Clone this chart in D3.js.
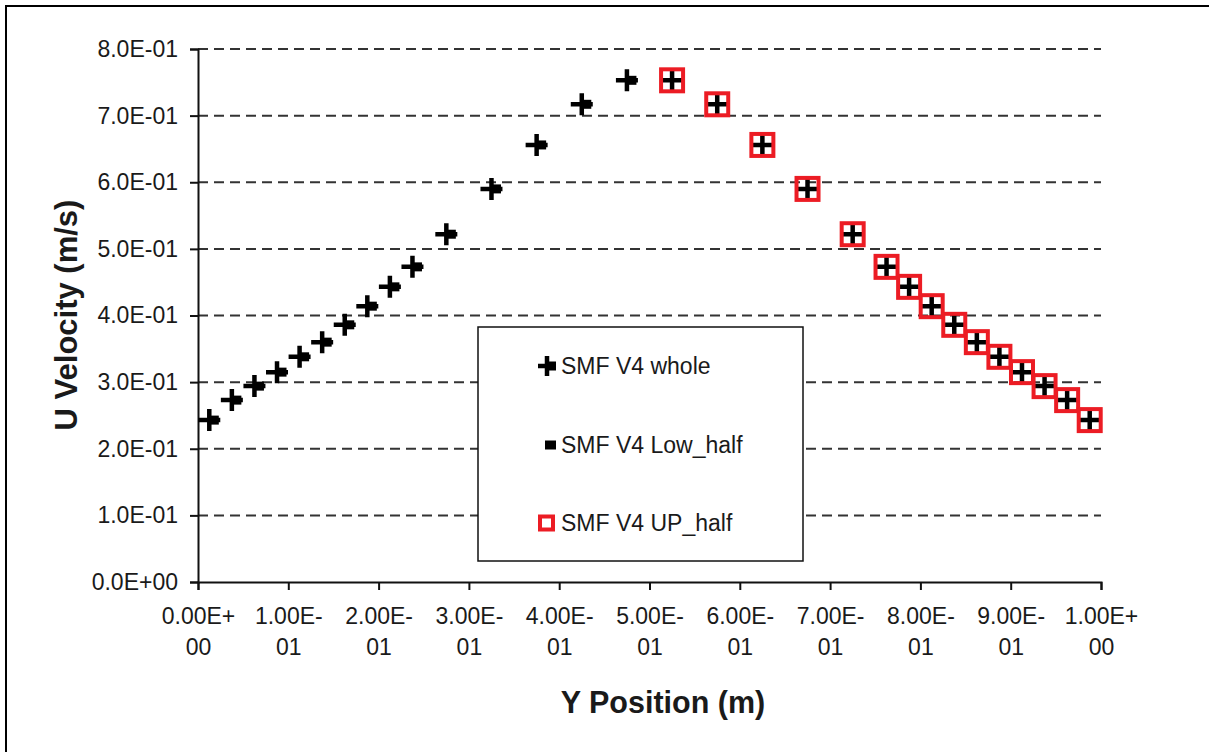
<!DOCTYPE html>
<html>
<head>
<meta charset="utf-8">
<script src="https://cdn.jsdelivr.net/npm/d3@7/dist/d3.min.js"></script>
<style>
  html, body { margin: 0; padding: 0; background: #fff; }
  svg { display: block; font-family: Arial, "Liberation Sans", sans-serif; }
</style>
</head>
<body>
<svg id="chart" width="1209" height="752"></svg>
<script>
// Velocity profile across the channel (Y position in m, U velocity in m/s)
const yPosition = [0.0125, 0.0375, 0.0625, 0.0875, 0.1125, 0.1375, 0.1625, 0.1875, 0.2125, 0.2375,
                   0.275, 0.325, 0.375, 0.425, 0.475, 0.525, 0.575, 0.625, 0.675, 0.725,
                   0.7625, 0.7875, 0.8125, 0.8375, 0.8625, 0.8875, 0.9125, 0.9375, 0.9625, 0.9875];
const uWhole = [0.243, 0.273, 0.294, 0.315, 0.338, 0.360, 0.386, 0.414, 0.443, 0.473,
                0.522, 0.590, 0.656, 0.717, 0.753, 0.753, 0.717, 0.656, 0.590, 0.522,
                0.473, 0.443, 0.414, 0.386, 0.360, 0.338, 0.315, 0.294, 0.273, 0.243];

const yPositionLow = [0.0175, 0.0425, 0.0675, 0.0925, 0.1175, 0.1425, 0.1675, 0.1925, 0.2175, 0.2425,
                      0.28, 0.33, 0.38, 0.43, 0.48];
const uLowHalf = [0.243, 0.273, 0.294, 0.315, 0.338, 0.360, 0.386, 0.414, 0.443, 0.473,
                  0.522, 0.590, 0.656, 0.717, 0.753];

const yPositionUp = [0.525, 0.575, 0.625, 0.675, 0.725, 0.7625, 0.7875, 0.8125, 0.8375, 0.8625,
                     0.8875, 0.9125, 0.9375, 0.9625, 0.9875];
const uUpHalf = [0.753, 0.717, 0.656, 0.590, 0.522, 0.473, 0.443, 0.414, 0.386, 0.360,
                 0.338, 0.315, 0.294, 0.273, 0.243];

const seriesNames = ["SMF V4 whole", "SMF V4 Low_half", "SMF V4 UP_half"];

const xTicks = [0, 0.1, 0.2, 0.3, 0.4, 0.5, 0.6, 0.7, 0.8, 0.9, 1.0];
const xTickLabels = [["0.00E+", "00"], ["1.00E-", "01"], ["2.00E-", "01"], ["3.00E-", "01"],
                     ["4.00E-", "01"], ["5.00E-", "01"], ["6.00E-", "01"], ["7.00E-", "01"],
                     ["8.00E-", "01"], ["9.00E-", "01"], ["1.00E+", "00"]];
const yTicks = [0, 0.1, 0.2, 0.3, 0.4, 0.5, 0.6, 0.7, 0.8];
const yTickLabels = ["0.0E+00", "1.0E-01", "2.0E-01", "3.0E-01", "4.0E-01",
                     "5.0E-01", "6.0E-01", "7.0E-01", "8.0E-01"];

const RED = "#ec1c24";
const INK = "#1a1a1a";

const svg = d3.select("#chart");

// outer frame (top and left edges)
svg.append("path")
  .attr("d", "M6,752 L6,6 L1209,6")
  .attr("fill", "none").attr("stroke", "#000").attr("stroke-width", 2);

const plot = { left: 198, right: 1101, top: 49, bottom: 582 };
const x = d3.scaleLinear().domain([0, 1]).range([plot.left, plot.right]);
const y = d3.scaleLinear().domain([0, 0.8]).range([plot.bottom, plot.top]);

// dashed horizontal gridlines
svg.append("g").selectAll("line")
  .data(yTicks.filter(d => d > 0))
  .join("line")
  .attr("x1", plot.left).attr("x2", plot.right)
  .attr("y1", d => y(d)).attr("y2", d => y(d))
  .attr("stroke", "#333").attr("stroke-width", 2)
  .attr("stroke-dasharray", "10,6");

// y axis
const yAxis = svg.append("g")
  .attr("transform", `translate(${plot.left},0)`)
  .call(d3.axisLeft(y).tickValues(yTicks).tickSize(8).tickPadding(12)
        .tickFormat((d, i) => yTickLabels[i]));
yAxis.select(".domain").attr("stroke", "#111").attr("stroke-width", 2);
yAxis.selectAll(".tick line").attr("stroke", "#111").attr("stroke-width", 2);
yAxis.selectAll(".tick text")
  .attr("font-size", 23).attr("fill", INK)
  .attr("font-family", "Arial, 'Liberation Sans', sans-serif");

// x axis with two-line tick labels
const xAxis = svg.append("g")
  .attr("transform", `translate(0,${plot.bottom})`)
  .call(d3.axisBottom(x).tickValues(xTicks).tickSize(8).tickFormat(""));
xAxis.select(".domain").attr("stroke", "#111").attr("stroke-width", 2);
xAxis.selectAll(".tick line").attr("stroke", "#111").attr("stroke-width", 2);
xAxis.selectAll(".tick text").remove();
xAxis.selectAll(".tick").each(function (d, i) {
  const t = d3.select(this).append("text")
    .attr("fill", INK).attr("font-size", 23).attr("text-anchor", "middle")
    .attr("font-family", "Arial, 'Liberation Sans', sans-serif");
  t.append("tspan").attr("x", 0).attr("y", 42).text(xTickLabels[i][0]);
  t.append("tspan").attr("x", 0).attr("y", 73).text(xTickLabels[i][1]);
});

// axis titles
svg.append("text")
  .attr("x", 663).attr("y", 713)
  .attr("text-anchor", "middle").attr("font-weight", "bold").attr("font-size", 30.5)
  .attr("fill", INK).text("Y Position (m)");
svg.append("text")
  .attr("transform", "translate(77,315) rotate(-90)")
  .attr("text-anchor", "middle").attr("font-weight", "bold").attr("font-size", 31)
  .attr("fill", INK).text("U Velocity (m/s)");

// marker helpers
function plusPath(cx, cy, w, h) {
  return `M${cx - w / 2},${cy} L${cx + w / 2},${cy} M${cx},${cy - h / 2} L${cx},${cy + h / 2}`;
}

const lowData = yPositionLow.map((p, i) => ({ p, u: uLowHalf[i] }));
const wholeData = yPosition.map((p, i) => ({ p, u: uWhole[i] }));
const upData = yPositionUp.map((p, i) => ({ p, u: uUpHalf[i] }));

// Low_half: small black squares
svg.append("g").selectAll("rect")
  .data(lowData).join("rect")
  .attr("x", d => x(d.p) - 5).attr("y", d => y(d.u) - 4.5)
  .attr("width", 10).attr("height", 9)
  .attr("fill", "#000");

// whole: bold plus markers
svg.append("g").selectAll("path")
  .data(wholeData).join("path")
  .attr("d", d => plusPath(x(d.p), y(d.u), 22, 22))
  .attr("stroke", "#000").attr("stroke-width", 4.5).attr("fill", "none");

// UP_half: hollow red squares
svg.append("g").selectAll("rect")
  .data(upData).join("rect")
  .attr("x", d => x(d.p) - 11).attr("y", d => y(d.u) - 11)
  .attr("width", 22).attr("height", 22)
  .attr("fill", "none").attr("stroke", RED).attr("stroke-width", 4);

// legend
const legend = svg.append("g");
legend.append("rect")
  .attr("x", 478).attr("y", 327).attr("width", 325).attr("height", 234)
  .attr("fill", "#fff").attr("stroke", "#111").attr("stroke-width", 1.5);

const rowsY = [366, 445, 523];
// whole
legend.append("rect").attr("x", 546).attr("y", rowsY[0] - 4.5).attr("width", 10).attr("height", 9).attr("fill", "#000");
legend.append("path").attr("d", plusPath(547, rowsY[0], 18, 20))
  .attr("stroke", "#000").attr("stroke-width", 4.5).attr("fill", "none");
// Low_half
legend.append("rect").attr("x", 545).attr("y", rowsY[1] - 4.5).attr("width", 11).attr("height", 9).attr("fill", "#000");
// UP_half
legend.append("rect").attr("x", 540).attr("y", rowsY[2] - 6.5).attr("width", 13).attr("height", 13)
  .attr("fill", "#fff").attr("stroke", RED).attr("stroke-width", 4);

legend.selectAll("text.lbl")
  .data(seriesNames).join("text")
  .attr("class", "lbl")
  .attr("x", 561).attr("y", (d, i) => rowsY[i] + 8)
  .attr("font-size", 23).attr("fill", INK)
  .text(d => d);
</script>
</body>
</html>
